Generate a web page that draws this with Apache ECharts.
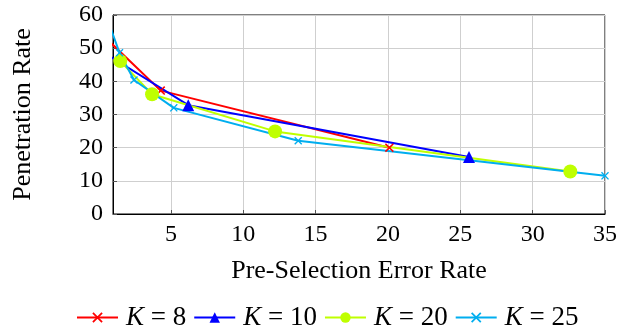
<!DOCTYPE html>
<html>
<head>
<meta charset="utf-8">
<script src="https://cdn.jsdelivr.net/npm/echarts@6/dist/echarts.min.js"></script>
<style>
  html, body { margin: 0; padding: 0; background: #fff; }
  #chart { width: 636px; height: 329px; }
</style>
</head>
<body>
<div id="chart"></div>
<script>
// series: [error rate, penetration rate]; first point of some series lies left of the axis and is clipped
const k8 = [[0.8, 51.8], [4.3, 37.2], [20.1, 20.0]];
const k10 = [[0.8, 47.5], [6.2, 32.8], [25.6, 17.2]];
const k20 = [[1.5, 46.1], [3.7, 36.1], [12.2, 24.9], [32.6, 12.8]];
const k25 = [[0.8, 56.5], [1.45, 48.6], [2.45, 40.4], [5.2, 32.0], [13.8, 22.1], [35.0, 11.5]];

const seriesNames = ['8', '10', '20', '25'];
const xTicks = [5, 10, 15, 20, 25, 30, 35];

const FONT = '"Liberation Serif", "DejaVu Serif", serif';
const CROSS = 'path://M0,1.2L1.2,0L5,3.8L8.8,0L10,1.2L6.2,5L10,8.8L8.8,10L5,6.2L1.2,10L0,8.8L3.8,5Z';

const chart = echarts.init(document.getElementById('chart'), null, { renderer: 'canvas' });

function makeSeries(name, data, color, symbol, size) {
  return {
    name,
    type: 'line',
    data,
    clip: true,
    symbol,
    symbolSize: size,
    showAllSymbol: true,
    lineStyle: { color, width: 2 },
    itemStyle: { color },
    emphasis: { disabled: true },
    animation: false,
  };
}

const option = {
  animation: false,
  grid: {
    left: 113, right: 31, top: 15, bottom: 115,
    outerBoundsMode: 'none',
    containLabel: false,
    show: true, borderColor: '#000', borderWidth: 1,
  },
  xAxis: {
    type: 'value',
    min: 1,
    max: 35,
    name: 'Pre-Selection Error Rate',
    nameLocation: 'middle',
    nameGap: 44,
    nameTextStyle: { fontFamily: FONT, fontSize: 26, color: '#000' },
    axisLine: { onZero: false, lineStyle: { color: '#000', width: 1 } },
    axisTick: { show: true, inside: true, length: 4, customValues: xTicks, lineStyle: { color: '#555' } },
    axisLabel: { customValues: xTicks, fontFamily: FONT, fontSize: 24, color: '#000', margin: 9 },
    splitLine: { show: true, lineStyle: { color: '#cfcfcf', width: 1 } },
  },
  yAxis: {
    type: 'value',
    min: 0,
    max: 60,
    interval: 10,
    name: 'Penetration Rate',
    nameLocation: 'middle',
    nameGap: 77,
    nameTextStyle: { fontFamily: FONT, fontSize: 26, color: '#000' },
    axisLine: { show: true, lineStyle: { color: '#000', width: 1 } },
    axisTick: { show: true, inside: true, length: 4, lineStyle: { color: '#555' } },
    axisLabel: { fontFamily: FONT, fontSize: 24, color: '#000', margin: 10 },
    splitLine: { show: true, lineStyle: { color: '#cfcfcf', width: 1 } },
  },
  legend: {
    top: 304,
    left: 76,
    padding: 0,
    itemWidth: 41,
    itemHeight: 13,
    itemGap: 7,
    selectedMode: false,
    data: ['8', '10', '20', '25'],
    formatter: (n) => '{k|K} = ' + n,
    textStyle: {
      fontFamily: FONT, fontSize: 27, color: '#000',
      padding: [0, 0, 0, 3],
      rich: { k: { fontFamily: FONT, fontSize: 27, fontStyle: 'italic', color: '#000' } },
    },
  },
  series: [
    makeSeries(seriesNames[0], k8, '#ff0000', CROSS, 9),
    makeSeries(seriesNames[1], k10, '#0000ff', 'triangle', 12),
    makeSeries(seriesNames[2], k20, '#bfff00', 'circle', 14),
    makeSeries(seriesNames[3], k25, '#00aeef', CROSS, 8),
  ],
};

chart.setOption(option);
</script>
</body>
</html>
